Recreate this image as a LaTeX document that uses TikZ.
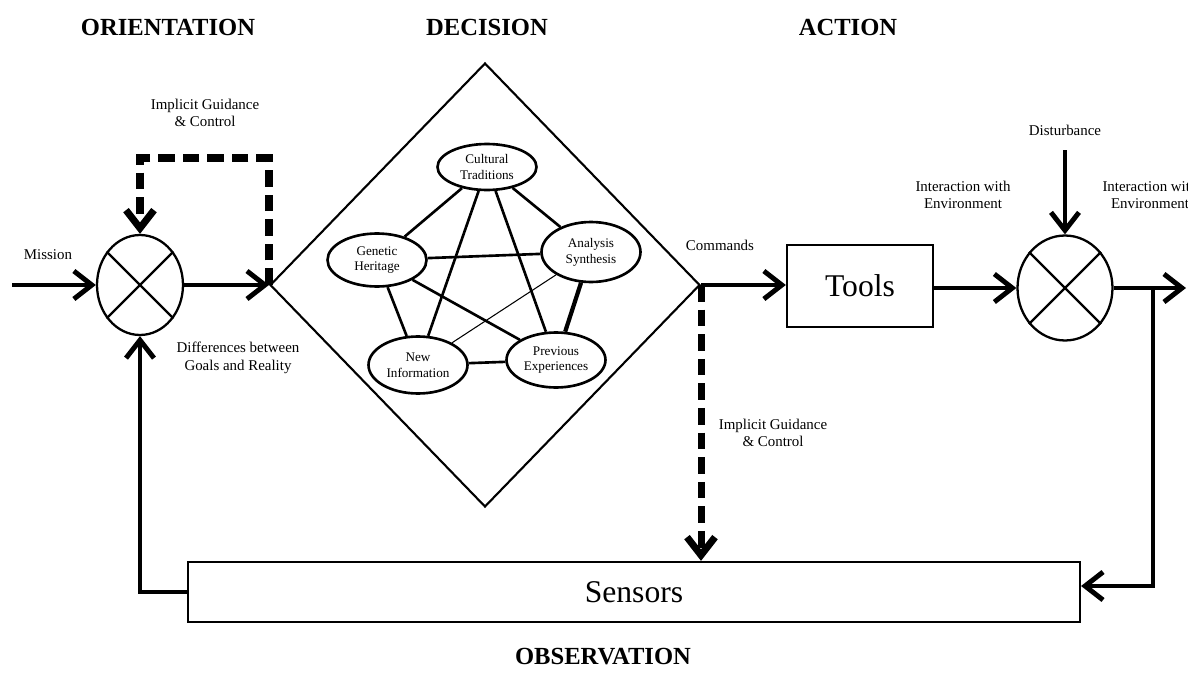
\documentclass[tikz,border=0pt]{standalone}
\usepackage{fontspec}
\setmainfont{Liberation Serif}
\usetikzlibrary{shapes.geometric,arrows.meta}
\begin{document}
\begin{tikzpicture}[x=0.02cm,y=-0.02cm]
\tikzstyle{every node}+=[inner sep=0pt]
\tikzstyle{flow}=[line width=2.8pt,line join=miter,-{Straight Barb[length=3.6mm,width=5.6mm]}]
\tikzstyle{guide}=[line width=4pt,dash pattern=on 9.5pt off 4.5pt,-{Straight Barb[length=3.6mm,width=5.6mm]}]
\tikzstyle{junction}=[ellipse,draw,line width=1.3pt,minimum width=1.72cm,minimum height=2cm]
\tikzstyle{factor}=[ellipse,draw,line width=1.5pt,minimum width=1.98cm,align=center,font=\fontsize{7.5}{9}\selectfont]
\tikzstyle{block}=[rectangle,draw,line width=1.3pt]
\tikzstyle{lbl}=[align=center,font=\fontsize{8.5}{10}\selectfont]
\tikzstyle{phase}=[font=\fontsize{14}{16}\selectfont\bfseries]
\tikzstyle{link}=[line width=1.5pt]
\useasboundingbox (0,0) rectangle (1188,693);
\node [phase] (orient) at (168,27) {ORIENTATION};
\node [phase] (decis) at (487,27) {DECISION};
\node [phase] (act) at (848,27) {ACTION};
\node [phase] (obs) at (603,657) {OBSERVATION};
\node [junction] (sumL) at (140,285) {};
\draw [line width=1.3pt] (sumL.135) -- (sumL.-45) (sumL.45) -- (sumL.-135);
\node [diamond,draw,line width=1.2pt,minimum width=8.6cm,minimum height=8.88cm] (decide) at (485,285) {};
\node [factor,minimum height=0.92cm] (ct) at (487,167) {Cultural\\Traditions};
\node [factor,minimum height=1.06cm] (gh) at (377,260) {Genetic\\Heritage};
\node [factor,minimum height=1.2cm] (as) at (591,252) {Analysis\\Synthesis};
\node [factor,minimum height=1.14cm] (ni) at (418,365) {New\\Information};
\node [factor,minimum height=1.1cm] (pe) at (556,360) {Previous\\Experiences};
\foreach \a/\b in {ct/gh,ct/as,ct/ni,ct/pe,gh/as,gh/pe,gh/ni,ni/pe}
  \draw [link] (\a) -- (\b);
\draw [line width=0.6pt] (as) -- (ni);
\draw [line width=2.4pt] (as) -- (pe);
\node [block,minimum width=2.92cm,minimum height=1.64cm,font=\fontsize{18}{20}\selectfont] (tools) at (860,286) {Tools};
\node [junction,minimum width=1.9cm,minimum height=2.1cm] (sumR) at (1065,288) {};
\draw [line width=1.3pt] (sumR.135) -- (sumR.-45) (sumR.45) -- (sumR.-135);
\node [block,minimum width=17.84cm,minimum height=1.2cm,font=\fontsize{18}{20}\selectfont] (sens) at (634,592) {Sensors};
\coordinate (mis) at (12,285);
\coordinate (gtop) at (205,158);
\coordinate (dist) at (1065,150);
\coordinate (out) at (1186,288);
\coordinate (tap) at (1153,288);
\coordinate (tapd) at (1153,586);
\draw [flow] (mis) -- (sumL.west);
\draw [flow] (sumL.east) -- (decide.west);
\draw [guide] (decide.west) |- (gtop) -| (sumL.north);
\draw [flow] (decide.east) -- (decide.east -| tools.west);
\draw [guide] (decide.east) -- (decide.east |- sens.north);
\draw [flow] (tools.east |- sumR.west) -- (sumR.west);
\draw [flow] (dist) -- (sumR.north);
\draw [flow] (sumR.east) -- (out);
\draw [flow] (tap) -- (tapd) -- (sens.east |- tapd);
\draw [flow] (sens.west) -| (sumL.south);
\node [lbl] (lmis) at (48,255) {Mission};
\node [lbl] (lguide) at (205,113) {Implicit Guidance\\\& Control};
\node [lbl] (ldiff) at (238,358) {Differences between\\Goals and Reality};
\node [lbl] (lcmd) at (720,245) {Commands};
\node [lbl] (lguide2) at (773,433) {Implicit Guidance\\\& Control};
\node [lbl] (ldist) at (1065,130) {Disturbance};
\node [lbl] (lenv) at (963,195) {Interaction with\\Environment};
\node [lbl] (lenv2) at (1150,195) {Interaction with\\Environment};
\end{tikzpicture}
\end{document}
